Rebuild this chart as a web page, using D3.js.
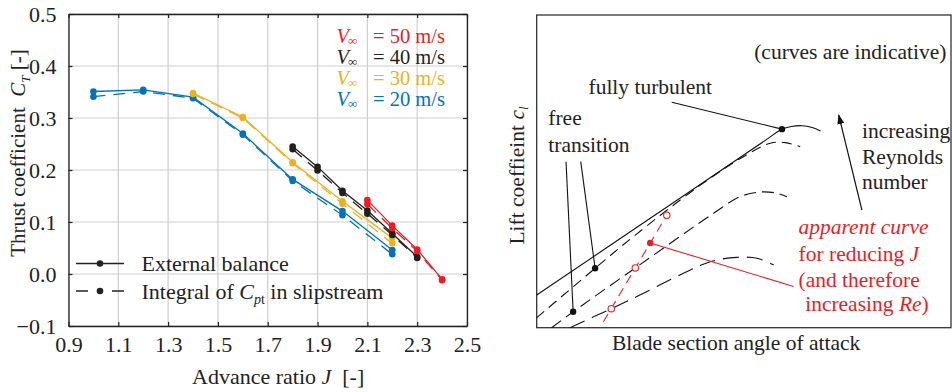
<!DOCTYPE html>
<html>
<head>
<meta charset="utf-8">
<script src="https://cdn.jsdelivr.net/npm/d3@7"></script>
<style>
  body { margin: 0; background: #fff; }
  svg { display: block; }
  text { font-family: "Liberation Serif", "Times New Roman", serif; }
</style>
</head>
<body>
<svg id="fig" width="952" height="392"></svg>
<script>
// ---------- Left panel: thrust coefficient vs advance ratio ----------
const jTicks = [0.9, 1.1, 1.3, 1.5, 1.7, 1.9, 2.1, 2.3, 2.5];
const ctTicks = [-0.1, 0.0, 0.1, 0.2, 0.3, 0.4, 0.5];

// V = 20 m/s
const j20 = [1.0, 1.2, 1.4, 1.6, 1.8, 2.0, 2.2];
const ctBalance20 = [0.351, 0.354, 0.340, 0.270, 0.182, 0.121, 0.046];
const ctIntegral20 = [0.341, 0.351, 0.338, 0.268, 0.179, 0.113, 0.038];
// V = 30 m/s
const j30 = [1.4, 1.6, 1.8, 2.0, 2.2];
const ctBalance30 = [0.348, 0.302, 0.215, 0.140, 0.069];
const ctIntegral30 = [0.346, 0.300, 0.213, 0.135, 0.059];
// V = 40 m/s
const j40 = [1.8, 1.9, 2.0, 2.1, 2.2, 2.3];
const ctBalance40 = [0.245, 0.206, 0.160, 0.122, 0.078, 0.033];
const ctIntegral40 = [0.240, 0.199, 0.156, 0.116, 0.075, 0.031];
// V = 50 m/s
const j50 = [2.1, 2.2, 2.3, 2.4];
const ctBalance50 = [0.142, 0.093, 0.047, -0.010];
const ctIntegral50 = [0.134, 0.088, 0.044, -0.012];

const speedLabels = ["50", "40", "30", "20"];
const speedColors = ["#ED1C24", "#231F20", "#EDB120", "#0072BD"];
const methodLabels = ["External balance", "Integral of "];

// ---------- Right panel: schematic lift curves (arbitrary units 0-100) ----------
const turbulentCurve = [[0, 10.46], [30, 37.3], [55, 59.74], [59.2, 63.5], [61.5, 64.35], [64, 64.6], [66.5, 64.0], [68.5, 62.9]];
const transitionCurveA = [[0, 3.2], [14.1, 19.0], [23.3, 29.1], [39.5, 45.6], [49.9, 54.7], [56.4, 59.0], [60.0, 59.2], [63.6, 57.9]];
const transitionCurveB = [[3.6, 0], [8.8, 5.1], [23.8, 19.1], [42.7, 36.6], [49.1, 41.9], [54.0, 43.4], [57.6, 43.1], [60.4, 41.9]];
const transitionCurveC = [[8.05, 0], [18.0, 6.1], [25.0, 10.5], [35.4, 17.4], [41.9, 21.1], [48.3, 22.5], [53.2, 22.2], [57.2, 20.1]];
const apparentLine = [[16.1, 1.9], [31.4, 36.0]];
const apparentOpen = [[18.0, 6.1], [23.8, 19.1], [31.4, 36.0]];
const apparentDot = [27.4, 27.1];
const turbulentDot = [59.2, 63.5];
const freeDots = [[8.8, 5.1], [14.1, 19.0]];
const turbulentLeader = [[32.6, 72.1], [59.2, 63.5]];
const freeLeaders = [[[7.08, 53.1], [8.8, 5.1]], [[10.63, 53.1], [14.1, 19.0]]];
const apparentLeader = [[27.4, 27.1], [62.0, 13.2]];
const reynoldsArrow = [[78.5, 37.6], [72.9, 68.0]];

const svg = d3.select("#fig");
const ink = "#222";

// ================= LEFT PANEL =================
const x = d3.scaleLinear().domain([0.9, 2.5]).range([68.5, 467]);
const y = d3.scaleLinear().domain([-0.1, 0.5]).range([326, 14]);
const L = svg.append("g");

// grid
L.append("g").selectAll("line").data(jTicks).join("line")
  .attr("x1", d => x(d)).attr("x2", d => x(d))
  .attr("y1", y.range()[0]).attr("y2", y.range()[1])
  .attr("stroke", "#cfcfcf").attr("stroke-width", 1.2);
L.append("g").selectAll("line").data(ctTicks).join("line")
  .attr("y1", d => y(d)).attr("y2", d => y(d))
  .attr("x1", x.range()[0]).attr("x2", x.range()[1])
  .attr("stroke", "#cfcfcf").attr("stroke-width", 1.2);

const line = d3.line().x(d => x(d[0])).y(d => y(d[1]));
const dash = "12,8";

function drawSeries(js, cts, color, dashed) {
  const pts = js.map((j, i) => [j, cts[i]]);
  L.append("path").datum(pts).attr("d", line)
    .attr("fill", "none").attr("stroke", color).attr("stroke-width", 1.3)
    .attr("stroke-dasharray", dashed ? dash : null);
  L.append("g").selectAll("circle").data(pts).join("circle")
    .attr("cx", d => x(d[0])).attr("cy", d => y(d[1])).attr("r", 3.3)
    .attr("fill", color);
}

const series = [
  [j20, ctBalance20, ctIntegral20, speedColors[3]],
  [j30, ctBalance30, ctIntegral30, speedColors[2]],
  [j40, ctBalance40, ctIntegral40, speedColors[1]],
  [j50, ctBalance50, ctIntegral50, speedColors[0]]
];
series.forEach(([js, bal, integ, c]) => {
  drawSeries(js, integ, c, true);
  drawSeries(js, bal, c, false);
});

// axes frame with inward ticks
const fmt = d3.format(".1f");
const axB = L.append("g").attr("transform", `translate(0,${y.range()[0]})`)
  .call(d3.axisBottom(x).tickValues(jTicks).tickFormat(fmt).tickSize(-4).tickSizeOuter(0).tickPadding(10));
const axT = L.append("g").attr("transform", `translate(0,${y.range()[1]})`)
  .call(d3.axisTop(x).tickValues(jTicks).tickFormat("").tickSize(-4).tickSizeOuter(0));
const axLft = L.append("g").attr("transform", `translate(${x.range()[0]},0)`)
  .call(d3.axisLeft(y).tickValues(ctTicks).tickFormat(fmt).tickSize(-4).tickSizeOuter(0).tickPadding(12));
const axR = L.append("g").attr("transform", `translate(${x.range()[1]},0)`)
  .call(d3.axisRight(y).tickValues(ctTicks).tickFormat("").tickSize(-4).tickSizeOuter(0));
[axB, axT, axLft, axR].forEach(a => {
  a.select(".domain").attr("stroke", ink).attr("stroke-width", 1.3);
  a.selectAll(".tick line").attr("stroke", ink).attr("stroke-width", 1.2);
  a.selectAll("text").attr("font-family", "Liberation Serif").attr("font-size", 22).attr("fill", ink);
});

// axis titles
const xt = L.append("text").attr("x", 192).attr("y", 384).attr("font-size", 22).attr("fill", ink);
xt.append("tspan").text("Advance ratio ");
xt.append("tspan").attr("font-style", "italic").text("J");
xt.append("tspan").text("\u00a0\u00a0[-]");

const yt = L.append("text").attr("transform", "translate(24.5,153) rotate(-90)")
  .attr("text-anchor", "middle").attr("font-size", 21).attr("fill", ink);
yt.append("tspan").text("Thrust coefficient\u00a0\u00a0");
yt.append("tspan").attr("font-style", "italic").text("C");
yt.append("tspan").attr("font-style", "italic").attr("font-size", 13).attr("dy", 5).text("T");
yt.append("tspan").attr("dy", -5).text("\u00a0[-]");

// speed legend (top right): one text per row
speedLabels.forEach((s, i) => {
  const by = 42.5 + i * 21.2;
  const t = L.append("text").attr("x", 336.5).attr("y", by).attr("font-size", 20.5).attr("fill", speedColors[i]);
  t.append("tspan").attr("font-style", "italic").text("V");
  t.append("tspan").attr("font-size", 13).attr("dx", -1).attr("dy", 2).text("\u221e");
  t.append("tspan").attr("x", 373).attr("dy", -2).text(`= ${s} m/s`);
});

// method legend (bottom left)
const legRows = [263.5, 291];
legRows.forEach((ly, i) => {
  L.append("line").attr("x1", 76).attr("x2", 124).attr("y1", ly).attr("y2", ly)
    .attr("stroke", ink).attr("stroke-width", 1.3)
    .attr("stroke-dasharray", i === 1 ? "12,24" : null);
  L.append("circle").attr("cx", 100).attr("cy", ly).attr("r", 3.3).attr("fill", ink);
  const t = L.append("text").attr("x", 141.5).attr("y", ly + 7.5).attr("font-size", 22).attr("fill", ink);
  t.append("tspan").text(methodLabels[i]);
  if (i === 1) {
    t.append("tspan").attr("font-style", "italic").text("C");
    t.append("tspan").attr("font-style", "italic").attr("font-size", 14).attr("dy", 5).text("p");
    t.append("tspan").attr("font-size", 14).text("t");
    t.append("tspan").attr("dy", -5).text(" in slipstream");
  }
});

// ================= RIGHT PANEL =================
const rx = d3.scaleLinear().domain([0, 100]).range([536.7, 951]);
const ry = d3.scaleLinear().domain([0, 100]).range([327.7, 15]);
const R = svg.append("g");
const rline = d3.line().x(d => rx(d[0])).y(d => ry(d[1]));
const rcurve = d3.line().x(d => rx(d[0])).y(d => ry(d[1])).curve(d3.curveCatmullRom.alpha(0.5));

const defs = svg.append("defs");
defs.append("marker").attr("id", "arrowhead").attr("markerUnits", "userSpaceOnUse")
  .attr("markerWidth", 10).attr("markerHeight", 8).attr("refX", 9).attr("refY", 3.5)
  .attr("orient", "auto")
  .append("path").attr("d", "M0,0 L10,3.5 L0,7 Z").attr("fill", "#111");

// frame
R.append("rect").attr("x", rx(0)).attr("y", ry(100)).attr("width", rx(100) - rx(0)).attr("height", ry(0) - ry(100))
  .attr("fill", "none").attr("stroke", "#333").attr("stroke-width", 1.3);

// lift curves
R.append("path").datum(turbulentCurve).attr("d", rcurve).attr("fill", "none").attr("stroke", "#111").attr("stroke-width", 1.1);
R.append("path").datum(transitionCurveA).attr("d", rcurve).attr("fill", "none").attr("stroke", "#111").attr("stroke-width", 1.1).attr("stroke-dasharray", "10,6");
R.append("path").datum(transitionCurveB).attr("d", rcurve).attr("fill", "none").attr("stroke", "#111").attr("stroke-width", 1.1).attr("stroke-dasharray", "12,6");
R.append("path").datum(transitionCurveC).attr("d", rcurve).attr("fill", "none").attr("stroke", "#111").attr("stroke-width", 1.1).attr("stroke-dasharray", "16,8");

// apparent curve (red)
const red = "#ED1C24";
R.append("path").datum(apparentLine).attr("d", rline).attr("fill", "none").attr("stroke", red).attr("stroke-width", 1.1).attr("stroke-dasharray", "9,6");
R.append("g").selectAll("circle").data(apparentOpen).join("circle")
  .attr("cx", d => rx(d[0])).attr("cy", d => ry(d[1])).attr("r", 3.2)
  .attr("fill", "#fff").attr("stroke", red).attr("stroke-width", 1.1);
R.append("path").datum(apparentLeader).attr("d", rline).attr("fill", "none").attr("stroke", red).attr("stroke-width", 1.1);
R.append("circle").attr("cx", rx(apparentDot[0])).attr("cy", ry(apparentDot[1])).attr("r", 3.2).attr("fill", red);

// black annotations
R.append("path").datum(turbulentLeader).attr("d", rline).attr("fill", "none").attr("stroke", "#111").attr("stroke-width", 1.1);
freeLeaders.forEach(seg => R.append("path").datum(seg).attr("d", rline).attr("fill", "none").attr("stroke", "#111").attr("stroke-width", 1.1));
R.append("g").selectAll("circle").data([turbulentDot, ...freeDots]).join("circle")
  .attr("cx", d => rx(d[0])).attr("cy", d => ry(d[1])).attr("r", 3.2).attr("fill", "#111");
R.append("path").datum(reynoldsArrow).attr("d", rline).attr("fill", "none").attr("stroke", "#111").attr("stroke-width", 1.2)
  .attr("marker-end", "url(#arrowhead)");

// texts
const fs = 21.5;
function rtext(ux, uy, str, color, italic) {
  return R.append("text").attr("x", rx(ux)).attr("y", ry(uy)).attr("font-size", fs)
    .attr("fill", color || ink).attr("font-style", italic ? "italic" : null).text(str);
}
rtext(52.5, 86.0, "(curves are indicative)");
rtext(12.5, 74.7, "fully turbulent");
rtext(2.8, 64.7, "free");
rtext(2.8, 56.3, "transition");
rtext(78.5, 60.8, "increasing");
rtext(78.5, 52.5, "Reynolds");
rtext(78.5, 44.4, "number");
rtext(63.2, 29.9, "apparent curve", red, true);
const t1 = rtext(63.2, 21.3, "for reducing ", red);
t1.append("tspan").attr("font-style", "italic").text("J");
rtext(63.2, 13.1, "(and therefore", red);
const t2 = rtext(64.8, 5.3, "increasing ", red);
t2.append("tspan").attr("font-style", "italic").text("Re");
t2.append("tspan").text(")");

R.append("text").attr("x", 612).attr("y", 350).attr("font-size", fs).attr("fill", ink)
  .text("Blade section angle of attack");
const lt = R.append("text").attr("transform", "translate(524,175.5) rotate(-90)")
  .attr("text-anchor", "middle").attr("font-size", fs).attr("fill", ink);
lt.append("tspan").text("Lift coeffieint ");
lt.append("tspan").attr("font-style", "italic").text("c");
lt.append("tspan").attr("font-style", "italic").attr("font-size", 13).attr("dy", 4).text("l");
</script>
</body>
</html>
